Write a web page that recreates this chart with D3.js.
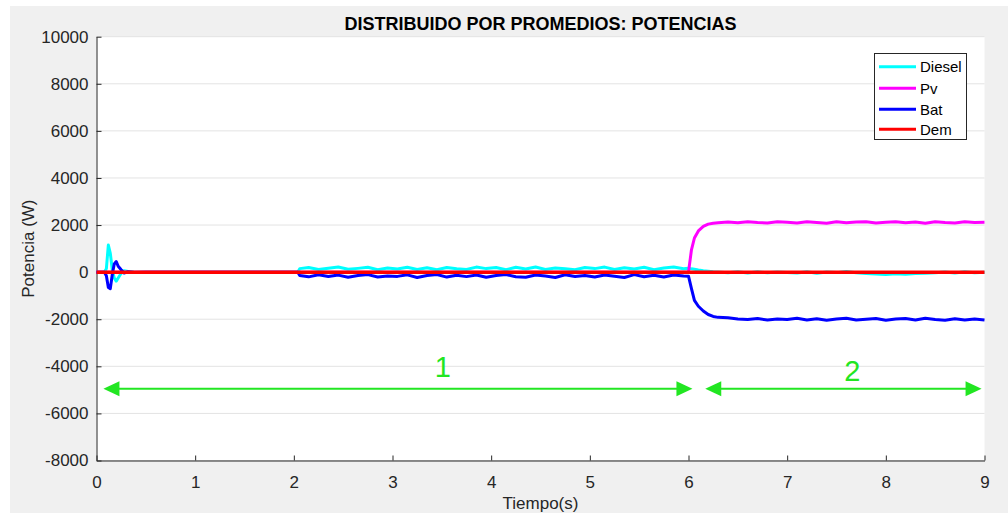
<!DOCTYPE html>
<html>
<head>
<meta charset="utf-8">
<script src="https://cdn.jsdelivr.net/npm/d3@7"></script>
<style>
  html, body { margin: 0; padding: 0; background: #ffffff; }
  svg { display: block; }
  text { font-family: "Liberation Sans", Arial, sans-serif; }
</style>
</head>
<body>
<svg id="chart" width="1008" height="515"></svg>
<script>
// ---------------- DATA ----------------
const title = "DISTRIBUIDO POR PROMEDIOS: POTENCIAS";
const xLabel = "Tiempo(s)";
const yLabel = "Potencia (W)";
const xTicks = [0, 1, 2, 3, 4, 5, 6, 7, 8, 9];
const yTicks = [-8000, -6000, -4000, -2000, 0, 2000, 4000, 6000, 8000, 10000];
const seriesNames = ["Diesel", "Pv", "Bat", "Dem"];

const time = [
  0, 0.08, 0.10, 0.12, 0.14, 0.16, 0.18, 0.20, 0.22, 0.25, 0.28, 0.32, 0.38, 0.50, 1.00, 1.50, 2.00, 2.04,
  2.06, 2.15, 2.25, 2.35, 2.45, 2.55, 2.65, 2.75, 2.85, 2.95,
  3.05, 3.15, 3.25, 3.35, 3.45, 3.55, 3.65, 3.75, 3.85, 3.95,
  4.05, 4.15, 4.25, 4.35, 4.45, 4.55, 4.65, 4.75, 4.85, 4.95,
  5.05, 5.15, 5.25, 5.35, 5.45, 5.55, 5.65, 5.75, 5.85, 5.95,
  6.00, 6.03, 6.06, 6.10, 6.15, 6.20, 6.25, 6.30, 6.40, 6.50, 6.60, 6.70, 6.80, 6.90,
  7.0, 7.1, 7.2, 7.3, 7.4, 7.5, 7.6, 7.7, 7.8, 7.9,
  8.0, 8.1, 8.2, 8.3, 8.4, 8.5, 8.6, 8.7, 8.8, 8.9, 9.0
];

const diesel = [
  0, 0, 150, 1150, 800, 100, -250, -380, -250, -50, 60, 30, 10, 0, 0, 0, 0, 0,
  150, 200, 110, 170, 215, 120, 160, 205, 105, 175,
  130, 210, 115, 190, 105, 200, 140, 110, 215, 150,
  195, 105, 205, 130, 220, 115, 180, 140, 100, 200,
  150, 215, 110, 190, 135, 210, 105, 175, 215, 140,
  170, 140, 120, 90, 60, 40, 20, 10, -30, 20, -40, 20, -30, 10,
  -10, -40, 20, -50, 10, -20, 30, -30, -60, -80,
  -100, -70, -90, -60, -50, -30, 10, -40, 20, -30, 0
];

const pv = [
  0, 0, 0, 0, 0, 0, 0, 0, 0, 0, 0, 0, 0, 0, 0, 0, 0, 0,
  0, 0, 0, 0, 0, 0, 0, 0, 0, 0,
  0, 0, 0, 0, 0, 0, 0, 0, 0, 0,
  0, 0, 0, 0, 0, 0, 0, 0, 0, 0,
  0, 0, 0, 0, 0, 0, 0, 0, 0, 0,
  0, 950, 1450, 1750, 1940, 2040, 2080, 2100, 2130, 2100, 2140, 2110, 2090, 2140,
  2120, 2090, 2140, 2110, 2080, 2140, 2100, 2130, 2140, 2090,
  2120, 2140, 2100, 2130, 2080, 2140, 2110, 2090, 2140, 2110, 2120
];

const bat = [
  0, 0, -150, -650, -700, -100, 350, 450, 250, 100, -40, 20, -10, 0, 0, 0, 0, 0,
  -140, -200, -110, -185, -125, -220, -145, -105, -205, -160,
  -180, -115, -225, -140, -100, -210, -130, -190, -120, -220,
  -140, -105, -195, -215, -120, -165, -225, -110, -185, -140,
  -210, -120, -170, -225, -105, -195, -135, -210, -120, -160,
  -170, -700, -1200, -1450, -1650, -1800, -1880, -1920, -1940, -1990, -2010, -1970, -2030, -1990,
  -2010, -1960, -2030, -1980, -2040, -1990, -1960, -2030, -2000, -1970,
  -2040, -1990, -1970, -2030, -1960, -2010, -2040, -1980, -2030, -1990, -2030
];

const demTime = [0, 9];
const dem = [0, 0];

// annotation arrows (data coordinates)
const arrowStart = [0.07, 6.17];
const arrowEnd = [6.04, 8.97];
const arrowLevel = -4950;
const arrowLabels = ["1", "2"];
const arrowLabelX = [3.51, 7.66];
const arrowLabelY = [-4040, -4210];

// ---------------- DRAW ----------------
(function () {
const svg = d3.select("#chart");
const W = 1008;
const pLeft = 96.5, pRight = 984.5, pTop = 36.7, pBottom = 460.5;

svg.append("rect").attr("x", 10).attr("y", 6).attr("width", W - 10).attr("height", 507).attr("fill", "#f0f0f0");
svg.append("rect").attr("x", pLeft).attr("y", pTop).attr("width", pRight - pLeft).attr("height", pBottom - pTop).attr("fill", "#ffffff");

const x = d3.scaleLinear().domain([0, 9]).range([pLeft, pRight]);
const y = d3.scaleLinear().domain([-8000, 10000]).range([pBottom, pTop]);

// grid
svg.append("g").selectAll("line").data(yTicks).join("line")
  .attr("x1", pLeft).attr("x2", pRight)
  .attr("y1", d => y(d)).attr("y2", d => y(d))
  .attr("stroke", "#e3e3e3").attr("stroke-width", 1);

const axisColor = "#262626";
const gx = svg.append("g").attr("transform", `translate(0,${pBottom})`)
  .call(d3.axisBottom(x).tickValues(xTicks).tickFormat(d3.format("d")).tickSizeInner(-5).tickSizeOuter(0).tickPadding(15));
const gy = svg.append("g").attr("transform", `translate(${pLeft},0)`)
  .call(d3.axisLeft(y).tickValues(yTicks).tickFormat(d => String(d)).tickSizeInner(-5).tickSizeOuter(0).tickPadding(8));
[gx, gy].forEach(g => {
  g.select(".domain").attr("stroke", axisColor).attr("stroke-width", 1);
  g.selectAll(".tick line").attr("stroke", axisColor);
  g.selectAll(".tick text").attr("fill", axisColor).style("font-size", "17px")
    .style("font-family", '"Liberation Sans", Arial, sans-serif');
});

// lines
const colors = { Diesel: "#00ffff", Pv: "#ff00ff", Bat: "#0000ff", Dem: "#ff0000" };
const widths = { Diesel: 3, Pv: 3, Bat: 3, Dem: 3.5 };
const line = d3.line().x(d => x(d[0])).y(d => y(d[1]));
const seriesData = {
  Diesel: time.map((t, i) => [t, diesel[i]]),
  Pv: time.map((t, i) => [t, pv[i]]),
  Bat: time.map((t, i) => [t, bat[i]]),
  Dem: demTime.map((t, i) => [t, dem[i]])
};
const plot = svg.append("g");
seriesNames.forEach(name => {
  plot.append("path").datum(seriesData[name])
    .attr("d", line).attr("fill", "none")
    .attr("stroke", colors[name]).attr("stroke-width", widths[name])
    .attr("stroke-linejoin", "round");
});

// arrows
const green = "#22e622";
const headLen = 16, headHalf = 7.5;
const ay = y(arrowLevel);
arrowStart.forEach((s, i) => {
  const x0 = x(s), x1 = x(arrowEnd[i]);
  svg.append("line").attr("x1", x0 + headLen - 1).attr("x2", x1 - headLen + 1)
    .attr("y1", ay).attr("y2", ay).attr("stroke", green).attr("stroke-width", 2);
  svg.append("path").attr("d", `M${x0},${ay} L${x0 + headLen},${ay - headHalf} L${x0 + headLen},${ay + headHalf} Z`).attr("fill", green);
  svg.append("path").attr("d", `M${x1},${ay} L${x1 - headLen},${ay - headHalf} L${x1 - headLen},${ay + headHalf} Z`).attr("fill", green);
  svg.append("text").attr("x", x(arrowLabelX[i])).attr("y", y(arrowLabelY[i]))
    .attr("text-anchor", "middle").attr("dominant-baseline", "central")
    .attr("fill", green).style("font-size", "29px").text(arrowLabels[i]);
});

// title & labels
svg.append("text").attr("x", (pLeft + pRight) / 2).attr("y", 29.5).attr("text-anchor", "middle")
  .style("font-size", "18px").style("font-weight", "bold").attr("fill", "#000").text(title);
svg.append("text").attr("x", (pLeft + pRight) / 2).attr("y", 509).attr("text-anchor", "middle")
  .style("font-size", "17px").attr("fill", axisColor).text(xLabel);
svg.append("text").attr("transform", `translate(34,${(pTop + pBottom) / 2}) rotate(-90)`).attr("text-anchor", "middle")
  .style("font-size", "17px").attr("fill", axisColor).text(yLabel);

// legend
const lg = svg.append("g");
lg.append("rect").attr("x", 874.5).attr("y", 53.5).attr("width", 92).attr("height", 86)
  .attr("fill", "#ffffff").attr("stroke", axisColor).attr("stroke-width", 1);
const rowY = [66.7, 88.3, 109.3, 129.3];
seriesNames.forEach((name, i) => {
  lg.append("line").attr("x1", 879).attr("x2", 916).attr("y1", rowY[i]).attr("y2", rowY[i])
    .attr("stroke", colors[name]).attr("stroke-width", 3);
  lg.append("text").attr("x", 920).attr("y", rowY[i]).attr("dominant-baseline", "central")
    .style("font-size", "15px").attr("fill", "#000").text(name);
});
})();
</script>
</body>
</html>
